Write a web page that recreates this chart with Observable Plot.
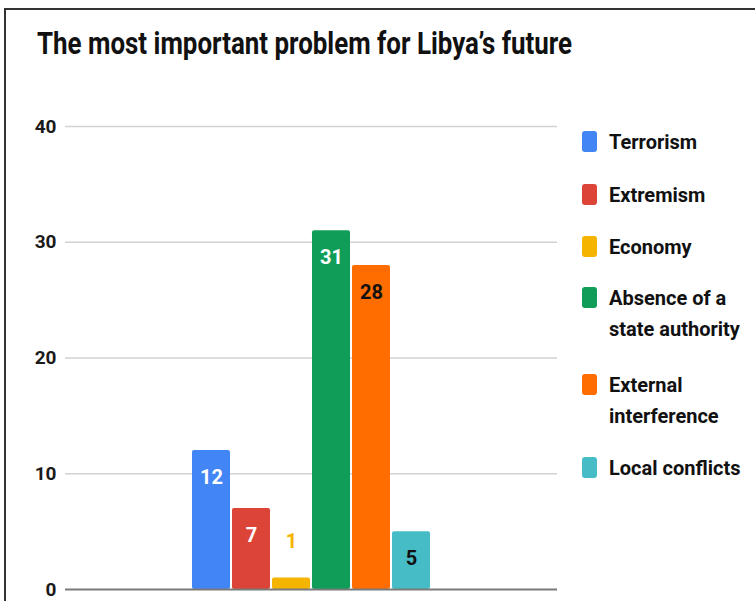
<!DOCTYPE html>
<html>
<head>
<meta charset="utf-8">
<script src="https://cdn.jsdelivr.net/npm/d3@7"></script>
<script src="https://cdn.jsdelivr.net/npm/@observablehq/plot@0.6"></script>
<style>
  html, body { margin: 0; padding: 0; background: #fff; }
  #wrap { position: relative; width: 755px; height: 601px; overflow: hidden; background: #fff;
          font-family: Roboto, "Liberation Sans", sans-serif; }
  #frame { position: absolute; left: 4px; top: 8px; width: 900px; height: 800px;
           border-left: 2px solid #333; border-top: 2px solid #333; box-sizing: border-box; }
  #title { position: absolute; left: 37px; top: 27px; font-size: 32px; line-height: 32px;
           font-weight: bold; color: #111; white-space: nowrap; transform-origin: 0 50%; }
  #chart { position: absolute; left: 0; top: 0; }
  .item { position: absolute; left: 582px; display: flex; align-items: flex-start; }
  .sw { width: 15px; height: 21px; border-radius: 3px; margin-top: 4.5px; flex: none; }
  .lab { margin-left: 12px; font-size: 20px; line-height: 31px; font-weight: bold; color: #111; width: 150px; }
</style>
</head>
<body>
<div id="wrap">
  <div id="frame"></div>
  <div id="title"></div>
  <div id="chart"></div>
  <div id="legend"></div>
</div>
<script>
const title = "The most important problem for Libya\u2019s future";
const categories = ["Terrorism", "Extremism", "Economy", "Absence of a state authority", "External interference", "Local conflicts"];
const values = [12, 7, 1, 31, 28, 5];
const yTicks = [0, 10, 20, 30, 40];

// styling (scale range / layout), kept separate from the data
const colors = ["#4285f4", "#db4437", "#f4b400", "#0f9d58", "#ff6d01", "#46bdc6"];
const legendCenters = [142, 195, 247, 298, 385, 468];

const data = categories.map((c, i) => ({category: c, value: values[i], color: colors[i]}));

function lum(hex) {
  const c = d3.rgb(hex);
  const f = v => { v /= 255; return v <= 0.03928 ? v / 12.92 : Math.pow((v + 0.055) / 1.055, 2.4); };
  return 0.2126 * f(c.r) + 0.7152 * f(c.g) + 0.0722 * f(c.b);
}
const inside = data.filter(d => d.value >= 3);
const outside = data.filter(d => d.value < 3);
const whiteLab = inside.filter(d => lum(d.color) <= 0.3);
const blackLab = inside.filter(d => lum(d.color) > 0.3);

const titleEl = document.getElementById("title");
titleEl.textContent = title;

const fontFam = 'Roboto, "Liberation Sans", sans-serif';
const chart = Plot.plot({
  width: 755,
  height: 601,
  marginTop: 126,
  marginBottom: 12,
  marginLeft: 65,
  marginRight: 198,
  style: {fontFamily: fontFam, fontSize: "19px", fontWeight: "bold", color: "#1a1a1a", background: "transparent", overflow: "visible"},
  x: {domain: categories, paddingInner: 0.055, paddingOuter: 3.15, axis: null},
  y: {domain: [0, 40], ticks: yTicks, tickSize: 0, tickPadding: 9, label: null},
  color: {domain: categories, range: colors},
  marks: [
    Plot.ruleY(yTicks.filter(t => t > 0), {stroke: "#d2d2d2", strokeWidth: 1.5}),
    Plot.barY(data, {x: "category", y: "value", fill: "category", rx: 2}),
    Plot.ruleY([0], {stroke: "#7a7a7a", strokeWidth: 2}),
    Plot.text(whiteLab, {x: "category", y: "value", text: d => String(d.value), dy: 27, fill: "white", fontSize: 20, fontWeight: "bold"}),
    Plot.text(blackLab, {x: "category", y: "value", text: d => String(d.value), dy: 27, fill: "#111", fontSize: 20, fontWeight: "bold"}),
    Plot.text(outside, {x: "category", y: "value", text: d => String(d.value), dy: -36, fill: "category", fontSize: 20, fontWeight: "bold"})
  ]
});
document.getElementById("chart").appendChild(chart);

// fit the title to the reference's width (condensed typeface not available)
const tw = titleEl.getBoundingClientRect().width;
titleEl.style.transform = `scaleX(${535 / tw})`;

const legend = document.getElementById("legend");
categories.forEach((c, i) => {
  const it = document.createElement("div");
  it.className = "item";
  it.style.top = (legendCenters[i] - 15.5) + "px";
  const sw = document.createElement("div");
  sw.className = "sw";
  sw.style.background = colors[i];
  const lab = document.createElement("div");
  lab.className = "lab";
  lab.textContent = c;
  it.appendChild(sw);
  it.appendChild(lab);
  legend.appendChild(it);
});
</script>
</body>
</html>
